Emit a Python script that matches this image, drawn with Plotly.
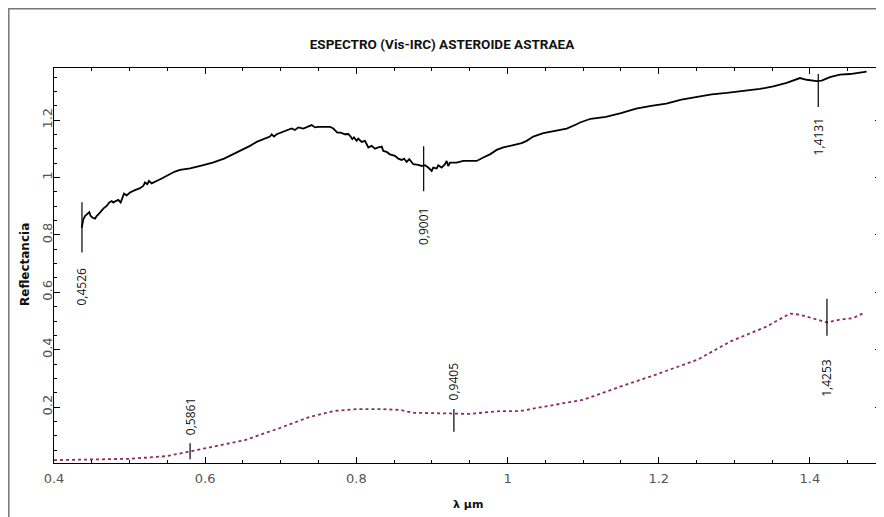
import plotly.graph_objects as go

# ---- data ----
upper_x = [0.4366, 0.4388, 0.441, 0.444, 0.4467, 0.4485, 0.4512, 0.4542, 0.4565, 0.4608,
           0.4652, 0.4697, 0.4732, 0.4763, 0.4785, 0.4816, 0.4851, 0.4882, 0.4908, 0.4926,
           0.4962, 0.5005, 0.5071, 0.5138, 0.5181, 0.5204, 0.5234, 0.5257, 0.5292, 0.5336,
           0.538, 0.5425, 0.5468, 0.5534, 0.56, 0.5667, 0.58, 0.595, 0.61, 0.625,
           0.64, 0.65, 0.6593, 0.6681, 0.6769, 0.6857, 0.688, 0.691, 0.6946, 0.7012,
           0.7056, 0.71, 0.7144, 0.7188, 0.7232, 0.7298, 0.7343, 0.7386, 0.7409, 0.7452,
           0.7496, 0.7651, 0.7695, 0.7748, 0.7792, 0.7849, 0.7893, 0.7924, 0.7946, 0.7968,
           0.8004, 0.8025, 0.807, 0.8114, 0.8158, 0.8202, 0.8246, 0.829, 0.8335, 0.8356,
           0.84, 0.8444, 0.8511, 0.8554, 0.8599, 0.863, 0.8665, 0.87, 0.8753, 0.8819,
           0.8864, 0.8907, 0.8951, 0.8996, 0.9017, 0.9062, 0.9083, 0.9128, 0.9172, 0.9194,
           0.9215, 0.9238, 0.9327, 0.9414, 0.9591, 0.9679, 0.9767, 0.9856, 0.9943, 1.0076,
           1.0186, 1.0253, 1.034, 1.0473, 1.065, 1.0782, 1.0914, 1.0958, 1.11, 1.13,
           1.15, 1.17, 1.19, 1.21, 1.23, 1.25, 1.27, 1.29, 1.3206, 1.3339,
           1.3515, 1.3692, 1.3868, 1.3956, 1.4089, 1.4155, 1.4265, 1.4397, 1.4529, 1.4661,
           1.475]
upper_y = [0.825, 0.854, 0.866, 0.872, 0.880, 0.866, 0.860, 0.857, 0.866, 0.878,
           0.892, 0.901, 0.913, 0.918, 0.913, 0.918, 0.922, 0.913, 0.930, 0.944,
           0.938, 0.948, 0.956, 0.963, 0.971, 0.983, 0.977, 0.988, 0.980, 0.985,
           0.991, 0.997, 1.003, 1.012, 1.021, 1.027, 1.032, 1.042, 1.052, 1.066,
           1.085, 1.098, 1.1105, 1.1245, 1.134, 1.143, 1.151, 1.143, 1.151, 1.157,
           1.163, 1.166, 1.171, 1.166, 1.175, 1.171, 1.176, 1.180, 1.183, 1.175,
           1.177, 1.177, 1.171, 1.157, 1.157, 1.151, 1.152, 1.143, 1.134, 1.140,
           1.128, 1.136, 1.1245, 1.128, 1.105, 1.1105, 1.101, 1.105, 1.108, 1.093,
           1.0895, 1.081, 1.0755, 1.066, 1.0615, 1.066, 1.0545, 1.064, 1.0465, 1.044,
           1.0405, 1.043, 1.035, 1.023, 1.035, 1.0315, 1.043, 1.035, 1.0465, 1.058,
           1.0405, 1.052, 1.052, 1.058, 1.058, 1.070, 1.081, 1.0965, 1.105, 1.113,
           1.120, 1.128, 1.143, 1.155, 1.163, 1.171, 1.186, 1.192, 1.205, 1.212,
           1.225, 1.240, 1.250, 1.258, 1.272, 1.280, 1.290, 1.295, 1.303, 1.309,
           1.318, 1.330, 1.347, 1.341, 1.336, 1.338, 1.350, 1.359, 1.361, 1.365,
           1.369]

lower_x = [0.4, 0.449, 0.4992, 0.5495, 0.5799, 0.5997, 0.6526, 0.6989, 0.7386, 0.7717,
           0.8021, 0.8312, 0.8577, 0.8749, 0.9172, 0.9489, 0.9899, 1.0164, 1.0429, 1.0997,
           1.1487, 1.1884, 1.2513, 1.295, 1.3431, 1.3735, 1.3868, 1.4093, 1.4225, 1.4397,
           1.4569, 1.4728]
lower_y = [0.015, 0.0175, 0.0196, 0.029, 0.044, 0.056, 0.085, 0.127, 0.166, 0.187,
           0.193, 0.193, 0.190, 0.180, 0.178, 0.176, 0.186, 0.186, 0.199, 0.225,
           0.271, 0.306, 0.365, 0.429, 0.481, 0.526, 0.522, 0.505, 0.495, 0.505,
           0.510, 0.530]

mark_labels = ["0,4526", "0,9001", "1,4131", "0,5861", "0,9405", "1,4253"]
mark_x = [0.437, 0.889, 1.411, 0.580, 0.929, 1.4225]
mark_y0 = [0.739, 0.952, 1.246, 0.018, 0.114, 0.449]
mark_y1 = [0.914, 1.109, 1.361, 0.074, 0.193, 0.578]
mark_label_y = [0.62, 0.83, 1.141, 0.165, 0.289, 0.302]

title_text = "ESPECTRO (Vis-IRC) ASTEROIDE ASTRAEA"
x_title = "λ μm"
y_title = "Reflectancia"
x_tickvals = [0.4, 0.6, 0.8, 1.0, 1.2, 1.4]
x_ticktext = ["0.4", "0.6", "0.8", "1", "1.2", "1.4"]
y_tickvals = [0.2, 0.4, 0.6, 0.8, 1.0, 1.2]
y_ticktext = ["0.2", "0.4", "0.6", "0.8", "1", "1.2"]

fig = go.Figure()
fig.add_trace(go.Scatter(x=lower_x, y=lower_y, mode="lines",
                         line=dict(color="#8c2a62", width=1.8, dash="dot"),
                         hoverinfo="skip", showlegend=False))
fig.add_trace(go.Scatter(x=upper_x, y=upper_y, mode="lines",
                         line=dict(color="#000000", width=1.8),
                         hoverinfo="skip", showlegend=False))
for xv, a, b in zip(mark_x, mark_y0, mark_y1):
    fig.add_trace(go.Scatter(x=[xv, xv], y=[a, b], mode="lines",
                             line=dict(color="#000000", width=1.2),
                             hoverinfo="skip", showlegend=False))
for lab, xv, yv in zip(mark_labels, mark_x, mark_label_y):
    fig.add_annotation(x=xv, y=yv, xref="x", yref="y", text=lab, showarrow=False,
                       xanchor="center", yanchor="middle",
                       textangle=-90, font=dict(family="Open Sans", size=12, color="#111"))

# page has an 8px body margin; figure is laid out so the plot area sits at page (54..881, 68..463)
OFF = 8
L, R, T, B = 54 - OFF, 3, 68 - OFF, 54
W, H = 884 - OFF, 517 - OFF
pw, ph = W - L - R, H - T - B

fig.add_annotation(x=(25 - 54) / pw, y=(463 - 265) / ph, xref="paper", yref="paper",
                   text="<b>" + y_title + "</b>", showarrow=False, textangle=-90,
                   xanchor="center", yanchor="middle",
                   font=dict(family="DejaVu Sans", size=12, color="#111"))
fig.add_annotation(x=0.5, y=(463 - 505) / ph, xref="paper", yref="paper",
                   text="<b>" + x_title + "</b>", showarrow=False,
                   xanchor="center", yanchor="middle",
                   font=dict(family="DejaVu Sans", size=11, color="#111"))

# outer frame (left and top visible)
fig.add_shape(type="rect", xref="paper", yref="paper",
              x0=(OFF + 0.8 - 54) / pw, x1=(W + 40 - L) / pw,
              y0=-(H + 40 - T - ph) / ph, y1=(463 - OFF - 0.8) / ph,
              line=dict(color="#777", width=1.5), fillcolor="rgba(0,0,0,0)", layer="below")

axis_common = dict(showgrid=False, zeroline=False, showline=True, linecolor="#000",
                   linewidth=1, mirror="allticks", ticks="inside", ticklen=6,
                   tickcolor="#000", tickfont=dict(family="DejaVu Sans", size=13, color="#555"))
fig.update_xaxes(range=[0.4, 1.494], tickvals=x_tickvals, ticktext=x_ticktext,
                 ticklabelstandoff=3,
                 minor=dict(dtick=0.05, tick0=0.4, ticks="inside", ticklen=3, tickcolor="#000"),
                 **axis_common)
fig.update_yaxes(range=[0.005, 1.382], tickvals=y_tickvals, ticktext=y_ticktext,
                 tickangle=-90, ticklabelstandoff=-4,
                 minor=dict(dtick=0.05, tick0=0, ticks="inside", ticklen=3, tickcolor="#000"),
                 **axis_common)

fig.update_layout(
    width=W, height=H,
    margin=dict(l=L, r=R, t=T, b=B, autoexpand=False),
    paper_bgcolor="white", plot_bgcolor="white",
    title=dict(text="<b>" + title_text + "</b>", x=(442 - OFF) / W, xanchor="center",
               y=1 - (44 - OFF) / H, yanchor="middle", yref="container",
               font=dict(family="Roboto", size=13.5, color="#111")),
    showlegend=False,
)

fig.write_html("out.html")
